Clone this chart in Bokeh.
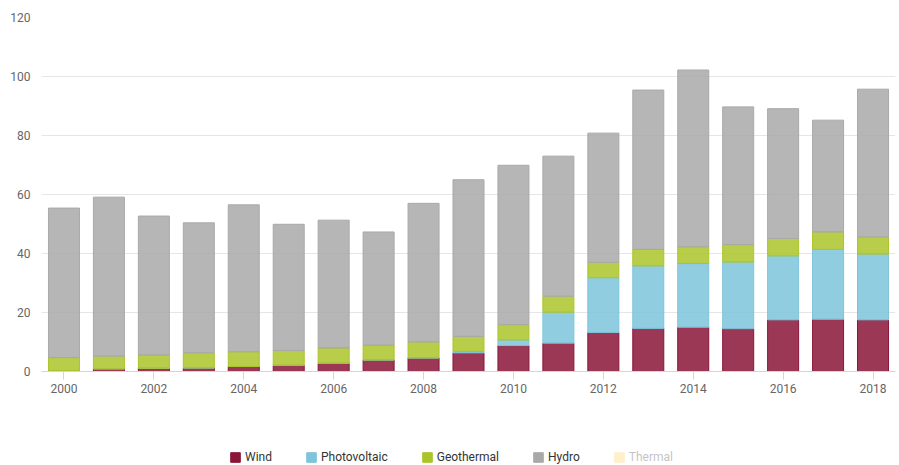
from bokeh.plotting import figure
from bokeh.layouts import column
from bokeh.models import Range1d, FixedTicker, Legend, LegendItem, ColumnDataSource
from bokeh.embed import file_html
from bokeh.resources import INLINE

years = list(range(2000, 2019))
wind = [0.3, 0.9, 1.1, 1.2, 1.7, 2.1, 2.8, 3.9, 4.6, 6.3, 8.8, 9.6, 13.2, 14.6, 15.0, 14.5, 17.5, 17.7, 17.5]
photovoltaic = [0, 0, 0, 0, 0, 0, 0, 0, 0, 0.5, 1.9, 10.5, 18.6, 21.2, 21.6, 22.6, 21.7, 23.7, 22.3]
geothermal = [4.4, 4.3, 4.5, 5.1, 5.0, 5.0, 5.2, 5.0, 5.4, 5.1, 5.2, 5.4, 5.2, 5.6, 5.7, 5.9, 5.9, 5.9, 5.8]
hydro = [50.7, 53.9, 47.1, 44.1, 49.8, 42.8, 43.3, 38.4, 47.0, 53.1, 54.0, 47.5, 43.8, 54.0, 59.9, 46.7, 44.0, 37.9, 50.1]
thermal = [0] * 19
tick_years = [2000, 2002, 2004, 2006, 2008, 2010, 2012, 2014, 2016, 2018]
y_ticks = [0, 20, 40, 60, 80, 100, 120]

series = ["Wind", "Photovoltaic", "Geothermal", "Hydro", "Thermal"]
colors = ["#8a1538", "#7ec4da", "#acc42a", "#a9a9a9", "#ffcb55"]

src = ColumnDataSource(dict(x=years, Wind=wind, Photovoltaic=photovoltaic,
                            Geothermal=geothermal, Hydro=hydro, Thermal=thermal))

# ---- main chart ----
p = figure(width=899, height=400, output_backend="svg", toolbar_location=None,
           x_range=Range1d(1999.5, 2018.5), y_range=Range1d(0, 120),
           min_border_left=41, min_border_right=4, min_border_top=17, min_border_bottom=29)
p.outline_line_color = None
p.background_fill_color = "white"
p.border_fill_color = "white"

p.vbar_stack(series[:4], x="x", width=0.69, source=src, color=colors[:4],
             fill_alpha=0.85, line_alpha=1.0, line_width=1)

p.xgrid.grid_line_color = None
p.ygrid.grid_line_color = "#e6e6e6"
p.ygrid.ticker = FixedTicker(ticks=y_ticks)

xa = p.xaxis[0]
xa.ticker = FixedTicker(ticks=tick_years)
xa.axis_line_color = "#ccd6eb"
xa.major_tick_line_color = "#ccd6eb"
xa.major_tick_out = 8
xa.major_tick_in = 0
xa.minor_tick_line_color = None
xa.major_label_standoff = 4
xa.major_label_text_font = "Roboto"
xa.major_label_text_font_size = "12px"
xa.major_label_text_color = "#666666"

ya = p.yaxis[0]
ya.ticker = FixedTicker(ticks=y_ticks)
ya.axis_line_color = None
ya.major_tick_line_color = None
ya.minor_tick_line_color = None
ya.major_tick_out = 0
ya.major_tick_in = 0
ya.major_label_standoff = 11
ya.major_label_text_font = "Roboto"
ya.major_label_text_font_size = "12px"
ya.major_label_text_color = "#666666"

# ---- legend strip ----
q = figure(width=899, height=65, output_backend="svg", toolbar_location=None,
           x_range=Range1d(1999.5, 2018.5), y_range=Range1d(1, 2),
           x_axis_location=None, y_axis_location=None,
           min_border_left=0, min_border_right=0, min_border_top=0, min_border_bottom=0)
q.outline_line_color = None
q.xgrid.grid_line_color = None
q.ygrid.grid_line_color = None

items = []
for name, c in zip(series, colors):
    r = q.vbar(x="x", top=0, bottom=0, width=0.69, source=src,
               fill_color=c, fill_alpha=1.0, line_color=c, line_alpha=1.0)
    if name == "Thermal":
        r.visible = False
    items.append(LegendItem(label=name, renderers=[r]))

legend = Legend(items=items, orientation="horizontal", location=(188, 1),
                click_policy="hide", inactive_fill_color="white", inactive_fill_alpha=0.7,
                glyph_width=12, glyph_height=12, label_standoff=4, spacing=33,
                padding=0, margin=0, border_line_color=None, background_fill_alpha=0,
                label_text_font="Roboto", label_text_font_size="12px",
                label_text_color="#333333", label_height=14)
q.add_layout(legend, "center")

open("out.html", "w").write(file_html(column(p, q, spacing=0), INLINE))
